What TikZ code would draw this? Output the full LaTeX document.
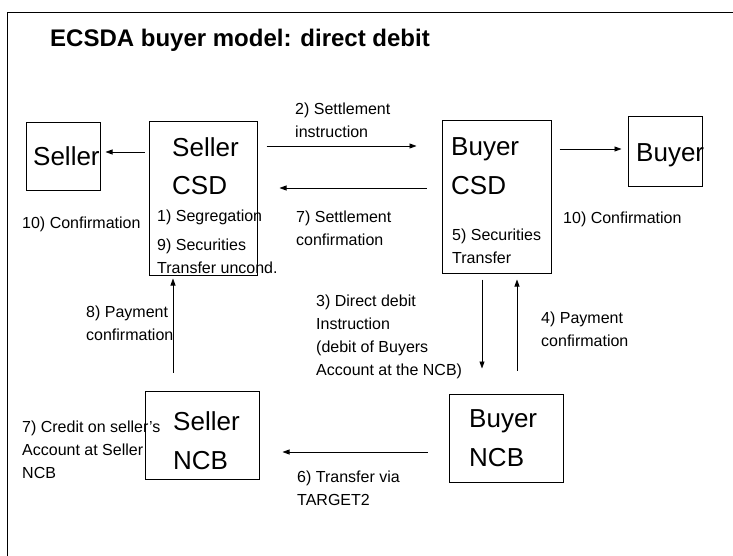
\documentclass[tikz,border=0pt]{standalone}
\usepackage{fontspec}
\setmainfont{Liberation Sans}
\usetikzlibrary{arrows.meta}
\begin{document}
\begin{tikzpicture}[x=1pt,y=-1pt,
  box/.style={draw,line width=1pt,inner sep=0pt},
  big/.style={inner sep=0pt,anchor=base west,align=left,font=\fontsize{26}{39}\selectfont},
  lab/.style={inner sep=0pt,anchor=base west,align=left,font=\fontsize{16}{23}\selectfont},
  ttl/.style={inner sep=0pt,anchor=base west,font=\fontsize{24}{28}\selectfont\bfseries},
  arr/.style={line width=0.8pt,-{Triangle[length=7pt,width=5pt]}},
  frame/.style={line width=0.8pt}]
\useasboundingbox (0,0) rectangle (733,556);
\draw[frame] (7,556) -- (7,12) -- (733,12);
\node[ttl] (title) at (50,47) {ECSDA buyer model: direct debit};
% boxes
\node[box,minimum width=74pt,minimum height=68pt] (seller) at (63,157) {};
\node[box,minimum width=108pt,minimum height=153pt] (scsd) at (203,198.5) {};
\node[box,minimum width=109pt,minimum height=152pt] (bcsd) at (496.5,197) {};
\node[box,minimum width=74pt,minimum height=70pt] (buyer) at (665,152) {};
\node[box,minimum width=114pt,minimum height=88pt] (sncb) at (202,435) {};
\node[box,minimum width=114pt,minimum height=88pt] (bncb) at (506,438) {};
% box texts (anchor = baseline of last line)
\node[big] (tseller) at (33,166) {Seller};
\node[big] (tscsd) at (172,195) {Seller\\CSD};
\node[big] (tbcsd) at (451,194) {Buyer\\CSD};
\node[big] (tbuyer) at (636,162) {Buyer};
\node[big] (tsncb) at (173,469) {Seller\\NCB};
\node[big] (tbncb) at (469,466) {Buyer\\NCB};
% labels (anchor = baseline of last line)
\node[lab] (l2) at (295,138) {2) Settlement\\instruction};
\node[lab] (l7s) at (296,245) {7) Settlement\\confirmation};
\node[lab] (l10a) at (22,228) {10) Confirmation};
\node[lab] (l10b) at (563,223) {10) Confirmation};
\node[lab] (l1) at (157,222) {1) Segregation};
\node[lab] (l9) at (157,273) {9) Securities\\Transfer uncond.};
\node[lab] (l5) at (452,263) {5) Securities\\Transfer};
\node[lab] (l8) at (86,340) {8) Payment\\confirmation};
\node[lab] (l7c) at (22,478) {7) Credit on seller's\\Account at Seller\\NCB};
\node[lab] (l3) at (316,375) {3) Direct debit\\Instruction\\(debit of Buyers\\Account at the NCB)};
\node[lab] (l4) at (541,346) {4) Payment\\confirmation};
\node[lab] (l6) at (297,505) {6) Transfer via\\TARGET2};
% connectors
\draw[arr,shorten <=4pt,shorten >=5pt] (scsd.west |- 0,152) -- (seller.east |- 0,152);
\draw[arr,shorten <=9pt,shorten >=25pt] (scsd.east |- 0,146) -- (bcsd.west |- 0,146);
\draw[arr,shorten <=15pt,shorten >=22pt] (bcsd.west |- 0,188) -- (scsd.east |- 0,188);
\draw[arr,shorten <=8pt,shorten >=6pt] (bcsd.east |- 0,149) -- (buyer.west |- 0,149);
\draw[arr,shorten <=18pt,shorten >=3pt] (sncb.north -| 173,0) -- (scsd.south -| 173,0);
\draw[arr,shorten <=6pt,shorten >=25pt] (bcsd.south -| 482,0) -- (bncb.north -| 482,0);
\draw[arr,shorten <=23pt,shorten >=6pt] (bncb.north -| 517,0) -- (bcsd.south -| 517,0);
\draw[arr,shorten <=21pt,shorten >=23pt] (bncb.west |- 0,452) -- (sncb.east |- 0,452);
\end{tikzpicture}
\end{document}
